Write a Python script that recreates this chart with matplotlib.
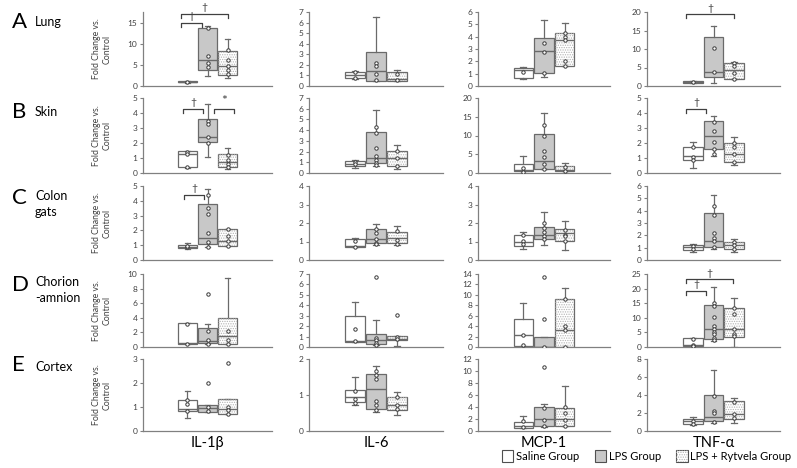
import numpy as np
import matplotlib.pyplot as plt
from matplotlib.patches import Rectangle, PathPatch

plt.rcParams['font.family'] = ['Lato', 'DejaVu Sans']
plt.rcParams['hatch.linewidth'] = 0.6

# labels
groups = ['Saline Group', 'LPS Group', 'LPS + Rytvela Group']
cytokines = ['IL-1β', 'IL-6', 'MCP-1', 'TNF-α']
tissues = ['Lung', 'Skin', 'Colon\ngats', 'Chorion\n-amnion', 'Cortex']
letters = ['A', 'B', 'C', 'D', 'E']

# box stats: [whisker low, q1, median, q3, whisker high] for saline, LPS, LPS+Rytvela
lung_il1b = [[0.8, 0.85, 1.0, 1.15, 1.2], [2.3, 3.9, 6.2, 13.8, 14.2], [2.0, 2.6, 4.7, 8.2, 11.0]]
lung_il6 = [[0.7, 0.72, 1.05, 1.35, 1.4], [0.5, 0.5, 1.4, 3.25, 6.55], [0.45, 0.45, 0.66, 1.35, 1.5]]
lung_mcp1 = [[0.55, 0.68, 1.3, 1.45, 1.53], [0.7, 1.04, 2.8, 3.9, 5.35], [1.66, 1.66, 3.7, 4.3, 5.07]]
lung_tnfa = [[0.7, 0.75, 1.1, 1.35, 1.4], [0.9, 2.3, 3.9, 13.2, 16.1], [1.8, 2.0, 4.3, 6.1, 6.4]]

skin_il1b = [[0.35, 0.4, 1.3, 1.48, 1.48], [1.08, 2.09, 2.38, 3.59, 4.6], [0.29, 0.4, 0.74, 1.3, 1.7]]
skin_il6 = [[0.44, 0.69, 0.88, 1.13, 1.25], [0.66, 0.94, 1.41, 3.8, 5.9], [0.4, 0.66, 1.44, 2.04, 2.6]]
skin_mcp1 = [[0.0, 0.63, 0.81, 2.43, 4.6], [1.0, 1.08, 3.3, 10.5, 15.9], [0.0, 0.45, 0.8, 1.8, 2.6]]
skin_tnfa = [[0.34, 0.9, 1.12, 1.75, 2.04], [1.12, 1.57, 2.47, 3.45, 3.81], [0.56, 0.76, 1.3, 2.02, 2.38]]

colon_il1b = [[0.77, 0.81, 0.9, 1.01, 1.13], [0.86, 1.08, 1.51, 3.76, 4.8], [0.95, 0.95, 1.31, 2.07, 2.07]]
colon_il6 = [[0.68, 0.68, 0.76, 1.12, 1.2], [0.81, 0.94, 1.12, 1.66, 1.93], [0.81, 0.9, 1.17, 1.53, 1.86]]
colon_mcp1 = [[0.62, 0.76, 0.98, 1.37, 1.51], [0.8, 1.12, 1.37, 1.78, 2.58], [0.53, 1.01, 1.47, 1.69, 2.1]]
colon_tnfa = [[0.62, 0.81, 1.08, 1.22, 1.27], [0.89, 1.03, 1.57, 3.78, 5.27], [0.62, 0.86, 1.22, 1.49, 1.68]]

chorion_il1b = [[0.46, 0.46, 0.6, 3.3, 3.3], [0.46, 0.55, 0.83, 2.66, 3.12], [0.37, 0.37, 1.56, 4.04, 9.4]]
chorion_il6 = [[0.48, 0.48, 0.58, 3.02, 4.28], [0.2, 0.26, 0.64, 1.29, 2.57], [0.06, 0.64, 0.8, 1.09, 1.09]]
chorion_mcp1 = [[0.19, 0.19, 2.25, 5.46, 8.41], [0.0, 0.0, 0.06, 1.99, 1.99], [0.0, 0.0, 3.28, 9.18, 11.4]]
chorion_tnfa = [[0.34, 0.34, 0.68, 2.94, 2.94], [2.04, 2.83, 6.22, 14.25, 20.5], [0.1, 3.5, 6.22, 13.3, 16.7]]

cortex_il1b = [[0.56, 0.84, 0.91, 1.29, 1.67], [0.8, 0.8, 0.94, 1.07, 1.09], [0.7, 0.7, 0.91, 1.35, 1.35]]
cortex_il6 = [[0.73, 0.8, 0.95, 1.14, 1.49], [0.53, 0.62, 1.17, 1.58, 1.8], [0.45, 0.58, 0.73, 0.94, 1.09]]
cortex_mcp1 = [[0.56, 0.56, 0.9, 1.58, 2.42], [0.73, 0.85, 2.03, 3.94, 4.56], [0.85, 0.9, 1.97, 3.83, 7.49]]
cortex_tnfa = [[0.68, 0.76, 1.14, 1.33, 1.55], [0.87, 1.14, 1.55, 3.98, 6.74], [0.87, 1.36, 1.89, 3.33, 3.71]]

# individual points per group
lung_il1b_pts = [[1.0], [13.6, 7.0, 5.4, 4.5], [8.4, 6.2, 4.8, 3.9, 2.8]]
lung_il6_pts = [[1.3, 0.75], [2.2, 1.9, 1.13, 0.56], [1.1, 0.56]]
lung_mcp1_pts = [[1.15], [3.49, 2.75, 1.09], [4.3, 4.0, 3.7, 1.99, 1.66]]
lung_tnfa_pts = [[1.0], [10.4, 3.85], [6.1, 5.3, 3.4, 2.0]]

skin_il1b_pts = [[1.41, 1.26, 0.4], [3.48, 3.27, 2.42, 2.02], [1.19, 0.9, 0.63, 0.4]]
skin_il6_pts = [[1.04, 0.88], [4.27, 3.7, 2.3, 1.57, 1.26, 0.94, 0.72], [2.07, 1.44, 0.66]]
skin_mcp1_pts = [[1.26, 0.18], [12.7, 9.8, 5.86, 4.23, 2.43, 1.08], [1.7, 0.54]]
skin_tnfa_pts = [[1.75, 1.08, 0.9], [3.43, 2.8, 2.06, 1.61, 1.26], [1.97, 1.75, 1.3, 0.76]]

colon_il1b_pts = [[0.85, 0.95], [4.39, 3.54, 3.09, 1.8, 1.24, 0.9], [2.07, 1.62, 1.31, 0.95]]
colon_il6_pts = [[1.03, 0.72], [1.66, 1.44, 1.12, 0.94, 0.85], [1.57, 1.08, 0.86]]
colon_mcp1_pts = [[1.37, 1.03, 0.85], [2.0, 1.74, 1.51, 1.3, 1.12], [1.64, 1.37, 1.3, 1.01]]
colon_tnfa_pts = [[1.14, 0.89], [4.38, 3.65, 2.16, 1.76, 1.54, 1.03], [1.49, 1.22, 0.89]]

chorion_il1b_pts = [[3.2, 0.46], [7.3, 2.2, 0.92, 0.46], [2.16, 0.92, 0.46]]
chorion_il6_pts = [[1.77, 0.55], [6.69, 0.87, 0.64, 0.39, 0.19], [3.05, 0.96, 0.74]]
chorion_mcp1_pts = [[2.31, 0.39], [13.4, 5.33, 0.0], [9.18, 4.05, 3.28, 0.0]]
chorion_tnfa_pts = [[2.6, 0.57, 0.34], [15.0, 14.1, 10.2, 7.1, 6.2, 5.2, 4.3, 3.2, 2.3], [13.3, 11.3, 6.2, 4.5, 3.7]]

cortex_il1b_pts = [[1.29, 1.14, 0.84], [2.0, 1.01, 0.84], [2.83, 0.98, 0.87, 0.7]]
cortex_il6_pts = [[1.1, 0.9, 0.78], [1.66, 1.56, 1.44, 0.84, 0.71, 0.59], [0.94, 0.73, 0.61]]
cortex_mcp1_pts = [[1.63, 0.62], [10.6, 3.77, 1.86, 0.85], [3.94, 2.99, 1.86, 0.85]]
cortex_tnfa_pts = [[1.14, 0.76], [3.9, 2.27, 2.0, 0.95], [3.22, 1.89, 1.44]]

# y axis: top value and tick step per panel
ymax_rows = [[17.5, 7, 6, 20], [5, 7, 20, 5], [5, 4, 4, 6], [10, 7, 14, 25], [3, 2, 12, 8]]
ystep_rows = [[5, 1, 1, 5], [1, 1, 5, 1], [1, 1, 1, 1], [2, 1, 2, 5], [1, 1, 2, 2]]

# significance brackets: (row, col, x1, x2, y, mark)
sig_marks = [(0, 0, 0.68, 1.72, 15.0, '†'), (0, 0, 0.68, 3.0, 17.1, '†'),
             (0, 3, 0.69, 3.0, 19.4, '†'),
             (1, 0, 0.78, 1.8, 4.28, '†'), (1, 0, 2.3, 3.3, 4.28, '*'),
             (1, 3, 0.69, 1.66, 4.28, '†'),
             (2, 0, 0.83, 1.83, 4.39, '†'),
             (3, 3, 0.67, 1.66, 19.3, '†'), (3, 3, 0.67, 2.96, 23.2, '†')]

boxes = [[lung_il1b, lung_il6, lung_mcp1, lung_tnfa],
         [skin_il1b, skin_il6, skin_mcp1, skin_tnfa],
         [colon_il1b, colon_il6, colon_mcp1, colon_tnfa],
         [chorion_il1b, chorion_il6, chorion_mcp1, chorion_tnfa],
         [cortex_il1b, cortex_il6, cortex_mcp1, cortex_tnfa]]
points = [[lung_il1b_pts, lung_il6_pts, lung_mcp1_pts, lung_tnfa_pts],
          [skin_il1b_pts, skin_il6_pts, skin_mcp1_pts, skin_tnfa_pts],
          [colon_il1b_pts, colon_il6_pts, colon_mcp1_pts, colon_tnfa_pts],
          [chorion_il1b_pts, chorion_il6_pts, chorion_mcp1_pts, chorion_tnfa_pts],
          [cortex_il1b_pts, cortex_il6_pts, cortex_mcp1_pts, cortex_tnfa_pts]]

W, H = 797, 468
edge = '#6a6a6a'
fills = ['white', '#c8c8c8', 'white']
dot_col = '#b4b4b4'

fig = plt.figure(figsize=(W / 100, H / 100), dpi=100)

col_px = [(143, 272), (309, 443), (478, 610), (647, 780)]
row_px = [(12, 86), (98, 173), (186, 260), (274, 347), (359, 431)]

axes = {}
for r in range(5):
    for c in range(4):
        x0, x1 = col_px[c]
        y0, y1 = row_px[r]
        ax = fig.add_axes([x0 / W, 1 - y1 / H, (x1 - x0) / W, (y1 - y0) / H])
        axes[(r, c)] = ax
        stats = [dict(whislo=s[0], q1=s[1], med=s[2], q3=s[3], whishi=s[4], fliers=[])
                 for s in boxes[r][c]]
        art = ax.bxp(stats, positions=[1, 2, 3], widths=0.95, patch_artist=True,
                     showfliers=False, capwidths=0.28,
                     boxprops=dict(edgecolor=edge, linewidth=0.9),
                     medianprops=dict(color=edge, linewidth=1.0),
                     whiskerprops=dict(color=edge, linewidth=0.9),
                     capprops=dict(color=edge, linewidth=0.9))
        for b, fc in zip(art['boxes'], fills):
            b.set_facecolor(fc)
        rb = art['boxes'][2]
        ax.add_patch(PathPatch(rb.get_path(), facecolor='none', edgecolor=dot_col,
                               hatch='.......', lw=0, zorder=2.05))

        for g, vals in enumerate(points[r][c]):
            ax.scatter(np.full(len(vals), g + 1), vals, s=6, facecolors='white',
                       edgecolors='#3a3a3a', linewidths=0.7, zorder=5)

        ymax = ymax_rows[r][c]
        step = ystep_rows[r][c]
        ax.set_ylim(0, ymax)
        ax.set_yticks(np.arange(0, ymax + 0.01, step))
        ax.set_xlim(-1.2, 5.2)
        ax.set_xticks([])
        for s in ['top', 'right']:
            ax.spines[s].set_visible(False)
        for s in ['left', 'bottom']:
            ax.spines[s].set_color('#808080')
            ax.spines[s].set_linewidth(0.9)
        ax.tick_params(axis='y', length=2.5, width=0.8, color='#808080',
                       labelsize=6, labelcolor='#404040', pad=1.5)
        ax.patch.set_alpha(0)

# significance brackets
for r, c, xa, xb, yv, mark in sig_marks:
    ax = axes[(r, c)]
    drop = ymax_rows[r][c] * 0.055
    ax.plot([xa, xa, xb, xb], [yv - drop, yv, yv, yv - drop], color='#404040',
            lw=0.9, clip_on=False, zorder=6)
    fs = 10 if mark == '*' else 7.5
    ax.text((xa + xb) / 2, yv + drop * 0.4, mark, ha='center', va='bottom',
            fontsize=fs, color='#404040', clip_on=False)

# row labels and y labels
letter_y = [22, 112, 198, 285, 365]
name_y = [22, 112, 204, 290, 367]
for r in range(5):
    fig.text(12 / W, 1 - letter_y[r] / H, letters[r], fontsize=16, va='center', ha='left')
    fig.text(35 / W, 1 - name_y[r] / H, tissues[r], fontsize=9, va='center', ha='left',
             linespacing=1.3)
    y0, y1 = row_px[r]
    fig.text(102 / W, 1 - (y0 + y1) / 2 / H, 'Fold Change vs.\nControl', rotation=90,
             fontsize=6.3, ha='center', va='center', color='#404040', linespacing=1.2)

# column labels
for c in range(4):
    x0, x1 = col_px[c]
    fig.text((x0 + x1) / 2 / W, 1 - 443 / H, cytokines[c], fontsize=10.5,
             ha='center', va='center')

# legend
h_sal = Rectangle((0, 0), 1, 1, facecolor='white', edgecolor='#505050', lw=0.8)
h_lps = Rectangle((0, 0), 1, 1, facecolor='#c8c8c8', edgecolor='#505050', lw=0.8)
h_ryt = (Rectangle((0, 0), 1, 1, facecolor='white', edgecolor='#505050', lw=0.8),
         Rectangle((0, 0), 1, 1, facecolor='none', edgecolor=dot_col, hatch='.......', lw=0))
fig.legend([h_sal, h_lps, h_ryt], groups, loc='center left', bbox_to_anchor=(502 / W, 1 - 456 / H),
           ncol=3, frameon=False, fontsize=8, handlelength=1.0, handleheight=1.3,
           handletextpad=0.25, columnspacing=1.4, borderpad=0, borderaxespad=0)

fig.savefig('out.png', dpi=100)
